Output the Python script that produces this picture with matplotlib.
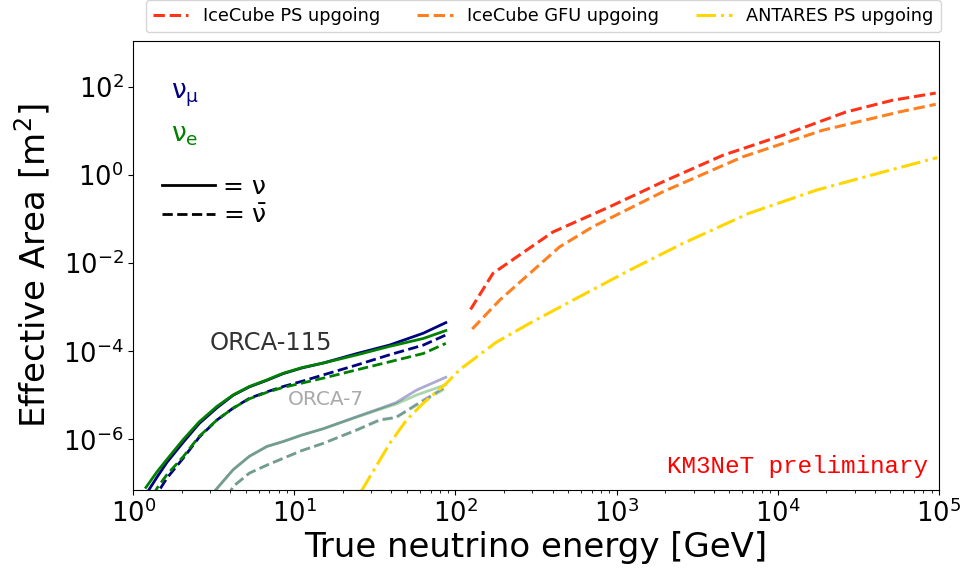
import matplotlib
matplotlib.use("Agg")
import matplotlib.pyplot as plt
from matplotlib.lines import Line2D
from matplotlib.ticker import NullLocator

# ORCA-115 effective areas [m^2] vs true energy [GeV]
e_115 = [1.20, 1.41, 1.62, 2.04, 2.57, 3.31, 4.17, 5.25, 6.76, 8.51, 11.2, 15.1, 24.5, 38.9, 63.1, 87.1]
numu_115 = [5.6e-8, 1.41e-7, 3.0e-7, 8.5e-7, 2.29e-6, 5.2e-6, 1.0e-5, 1.55e-5, 2.19e-5, 3.1e-5,
            4.2e-5, 5.4e-5, 8.9e-5, 1.38e-4, 2.57e-4, 4.47e-4]
nue_115 = [8.1e-8, 1.86e-7, 3.5e-7, 9.8e-7, 2.5e-6, 5.6e-6, 1.02e-5, 1.58e-5, 2.24e-5, 3.16e-5,
           4.27e-5, 5.4e-5, 8.3e-5, 1.29e-4, 1.95e-4, 2.95e-4]
numubar_115 = [2.0e-8, 5.9e-8, 1.32e-7, 3.7e-7, 1.12e-6, 2.75e-6, 5.1e-6, 8.5e-6, 1.2e-5, 1.58e-5,
               2.09e-5, 2.9e-5, 4.9e-5, 8.3e-5, 1.38e-4, 2.34e-4]
nuebar_115 = [2.8e-8, 7.9e-8, 1.58e-7, 4.0e-7, 1.17e-6, 2.75e-6, 5.1e-6, 8.3e-6, 1.17e-5, 1.51e-5,
              1.9e-5, 2.45e-5, 3.8e-5, 5.75e-5, 8.9e-5, 1.51e-4]

# ORCA-7
e_7 = [3.16, 4.17, 5.25, 6.76, 8.51, 11.2, 15.1, 24.5, 33.9, 42.7, 57.5, 87.1]
numu_7 = [6.3e-8, 2.04e-7, 4.1e-7, 6.9e-7, 8.9e-7, 1.26e-6, 1.74e-6, 3.3e-6, 5.0e-6, 6.8e-6, 1.32e-5, 2.57e-5]
nue_7 = [6.3e-8, 2.04e-7, 4.1e-7, 6.9e-7, 8.9e-7, 1.26e-6, 1.74e-6, 3.2e-6, 4.8e-6, 6.3e-6, 1.02e-5, 1.74e-5]
numubar_7 = [1.26e-8, 8.5e-8, 1.7e-7, 2.6e-7, 3.7e-7, 5.6e-7, 8.1e-7, 1.66e-6, 2.8e-6, 3.16e-6, 6.3e-6, 1.58e-5]
nuebar_7 = [1.26e-8, 8.5e-8, 1.7e-7, 2.6e-7, 3.7e-7, 5.6e-7, 8.1e-7, 1.62e-6, 2.7e-6, 3.1e-6, 6.0e-6, 1.45e-5]

# other experiments
e_icps = [124, 171, 402, 902, 1930, 4540, 10700, 26400, 51400, 95500]
a_icps = [8.9e-4, 5.9e-3, 5.1e-2, 0.19, 0.70, 2.8, 8.0, 27, 50, 73]
e_icgfu = [127, 188, 443, 711, 1930, 6040, 18900, 56500, 95500]
a_icgfu = [3.2e-4, 1.45e-3, 2.35e-2, 6.7e-2, 0.416, 2.59, 10.4, 27.1, 40.6]
e_ant = [25.8, 39.1, 49.7, 63.0, 87.7, 106, 178, 288, 589, 1200, 2570, 6600, 17400, 44700, 97700]
a_ant = [6.3e-8, 8.1e-7, 2.75e-6, 6.6e-6, 1.86e-5, 3.8e-5, 1.58e-4, 4.3e-4, 1.74e-3,
         6.9e-3, 2.8e-2, 0.135, 0.457, 1.17, 2.5]

fig = plt.figure(figsize=(9.65, 5.72), dpi=100)
ax = fig.add_axes([0.138, 0.143, 0.835, 0.785])

# ORCA-7 (faded)
ax.plot(e_7, numu_7, color="navy", lw=2, alpha=0.33)
ax.plot(e_7, nue_7, color="green", lw=2, alpha=0.33)
ax.plot(e_7, numubar_7, color="navy", lw=2, ls="--", alpha=0.33)
ax.plot(e_7, nuebar_7, color="green", lw=2, ls="--", alpha=0.33)

# ORCA-115
ax.plot(e_115, numu_115, color="navy", lw=2)
ax.plot(e_115, nue_115, color="green", lw=2)
ax.plot(e_115, numubar_115, color="navy", lw=2, ls="--")
ax.plot(e_115, nuebar_115, color="green", lw=2, ls="--")

l1, = ax.plot(e_icps, a_icps, color="#ff3318", lw=2.2, ls="--", label="IceCube PS upgoing")
l2, = ax.plot(e_icgfu, a_icgfu, color="#ff8020", lw=2.2, ls="--", label="IceCube GFU upgoing")
l3, = ax.plot(e_ant, a_ant, color="gold", lw=2.2, ls="-.", label="ANTARES PS upgoing")

ax.set_xscale("log")
ax.set_yscale("log")
ax.set_xlim(1, 1e5)
ax.set_ylim(7e-8, 1.1e3)
ax.set_yticks([1e-6, 1e-4, 1e-2, 1, 1e2])
ax.yaxis.set_minor_locator(NullLocator())
ax.tick_params(labelsize=18.5)
ax.set_xlabel("True neutrino energy [GeV]", fontsize=24.5, labelpad=2)
ax.set_ylabel("Effective Area [m$^2$]", fontsize=24.5, labelpad=8)

leg = ax.legend(handles=[l1, l2, l3], loc="lower right", bbox_to_anchor=(1.002, 1.02),
                ncol=3, fontsize=12.8, borderaxespad=0, columnspacing=2.1)
ax.add_artist(leg)

ax.text(0.047, 0.873, "ν$_\\mathregular{μ}$", transform=ax.transAxes, color="navy", fontsize=19)
ax.text(0.047, 0.776, "ν$_\\mathregular{e}$", transform=ax.transAxes, color="green", fontsize=19)
hs = [Line2D([], [], color="k", lw=2), Line2D([], [], color="k", lw=2, ls="--")]
ax.legend(handles=hs, labels=["= ν", "= $\\mathregular{\\bar{ν}}$"], loc="upper left",
          bbox_to_anchor=(0.036, 0.703), frameon=False, fontsize=18, borderpad=0,
          borderaxespad=0, handlelength=2.1, handletextpad=0.35, labelspacing=0.2)

ax.text(3.0, 1.55e-4, "ORCA-115", color="#333333", fontsize=17.5, va="center")
ax.text(9.1, 7.9e-6, "ORCA-7", color="#aaaaaa", fontsize=14.5, va="center")
ax.text(0.986, 0.052, "KM3NeT preliminary", transform=ax.transAxes, ha="right", va="center",
        color="red", family="Liberation Mono", fontsize=17.5)

fig.savefig("out.png", dpi=100)
